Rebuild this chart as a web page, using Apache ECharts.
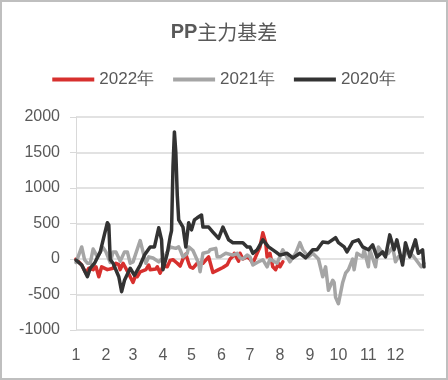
<!DOCTYPE html>
<html>
<head>
<meta charset="utf-8">
<script src="https://cdn.jsdelivr.net/npm/echarts@6/dist/echarts.min.js"></script>
<style>
html,body{margin:0;padding:0;background:#fff;}
#chart{width:448px;height:380px;position:absolute;left:0;top:0;}
#frame{position:absolute;left:0;top:0;width:448px;height:380px;box-sizing:border-box;border:2px solid #bfbfbf;pointer-events:none;}
</style>
</head>
<body>
<div id="chart"></div>
<div id="frame"></div>
<script>
// trading-day index of each month's first day and its label
const monthStartDays = [0, 21, 40, 61, 81, 102, 122, 143, 164, 184, 205, 224];
const monthLabels = ['1','2','3','4','5','6','7','8','9','10','11','12'];
const yTicks = [-1000, -500, 0, 500, 1000, 1500, 2000];

const days2022 = [0,4,5,7,9,12,14,16,18,22,26,28,30,31,33,36,38,40,42,43,45,49,51,52,56,57,59,61,64,66,68,71,73,75,77,79,80,82,85,87,89,93,96,100,103,106,108,110,111,114,115,117,120,122,124,127,129,131,132,133,134,136,138,140,142,143,145];
const vals2022 = [0,-85,-110,-200,-130,-150,-110,-250,-110,-150,-130,-60,-80,-150,-60,-170,-250,-330,-220,-250,-180,-150,-85,-150,-140,-110,-200,-100,-110,-20,-10,-60,-100,0,70,-60,-110,-130,-60,-60,-60,30,-190,-150,-120,-80,0,40,80,-30,80,0,30,0,-60,80,170,370,380,230,30,80,-110,-150,-60,-110,-40];

const days2021 = [0,4,6,8,10,12,15,19,21,24,26,28,31,34,36,38,40,45,47,49,51,54,58,62,66,70,72,73,75,78,79,82,86,87,89,93,94,98,99,101,105,106,110,113,115,117,120,122,124,127,131,134,136,141,145,150,154,157,159,163,166,170,173,175,177,180,181,182,184,187,189,191,194,195,197,201,202,205,206,210,212,216,219,222,224,226,230,232,236,238,242,244];
const vals2021 = [-50,170,-10,-60,-60,140,30,160,100,-50,100,100,-30,100,100,-60,-40,260,100,-60,30,15,-40,30,170,150,170,130,30,80,170,120,-60,-180,80,100,130,150,30,30,80,100,55,80,15,0,55,30,-85,-50,-10,-110,0,-60,130,-40,80,230,130,30,80,0,-250,-110,-440,-300,-330,-540,-630,-330,-200,-150,0,-150,80,30,130,-110,130,-110,170,55,80,170,-40,30,30,130,50,0,-110,-60];

const days2020 = [0,4,8,10,13,17,20,22,23,24,26,30,32,34,38,41,45,48,52,55,58,60,61,64,66,67,68,69,70,71,72,73,75,77,79,81,83,85,88,89,93,96,100,103,107,110,113,117,120,122,124,127,131,135,140,143,148,152,157,161,166,169,173,177,182,184,188,190,194,198,201,205,208,211,215,217,220,223,225,229,231,234,238,240,243,244];
const vals2020 = [-15,-85,-250,-130,-60,100,350,510,480,-10,-60,-250,-460,-300,-130,-230,-85,55,170,170,440,270,-150,80,310,400,1300,1790,1500,900,550,550,450,170,510,410,550,580,620,450,450,380,290,450,270,230,230,230,170,170,80,130,270,170,100,55,80,15,80,15,130,130,240,230,300,230,170,100,240,270,170,130,200,30,100,30,340,130,270,-85,230,30,270,80,130,-110];

const seriesNames = ['2022年', '2021年', '2020年'];
const seriesColors = ['#D7302E', '#A5A5A5', '#333333'];

function pairs(d, v) { return d.map((x, i) => [x, v[i]]); }
const allData = [pairs(days2022, vals2022), pairs(days2021, vals2021), pairs(days2020, vals2020)];

const chart = echarts.init(document.getElementById('chart'), null, {renderer: 'canvas'});
const labelFont = '"Liberation Sans", Arial, sans-serif';

chart.setOption({
  animation: false,
  backgroundColor: '#ffffff',
  title: {
    text: '{a|PP}{b|主力基差}',
    left: 'center',
    top: 17,
    textStyle: {
      rich: {
        a: {fontSize: 20, fontWeight: 'bold', color: '#595959', fontFamily: labelFont},
        b: {fontSize: 20, fontWeight: 'normal', color: '#595959', fontFamily: '"Noto Sans CJK SC", sans-serif'}
      }
    }
  },
  legend: {
    data: seriesNames,
    left: 'center',
    top: 66,
    icon: 'rect',
    itemWidth: 42,
    itemHeight: 4,
    itemGap: 19,
    textStyle: {fontSize: 17, color: '#595959', fontFamily: labelFont}
  },
  grid: {left: 76, right: 24, top: 117, bottom: 50},
  xAxis: {
    type: 'value',
    min: 0,
    max: 244,
    axisLine: {show: false},
    axisTick: {show: false},
    splitLine: {show: false},
    axisLabel: {
      customValues: monthStartDays,
      formatter: function (v) {
        const i = monthStartDays.indexOf(v);
        return i >= 0 ? monthLabels[i] : '';
      },
      fontSize: 16,
      color: '#595959',
      fontFamily: labelFont,
      margin: 18
    }
  },
  yAxis: {
    type: 'value',
    min: yTicks[0],
    max: yTicks[yTicks.length - 1],
    interval: 500,
    axisLine: {show: true, lineStyle: {color: '#d9d9d9', width: 1}},
    axisTick: {show: true, length: 6, lineStyle: {color: '#d9d9d9'}},
    splitLine: {show: true, lineStyle: {color: '#d9d9d9', width: 1.5}},
    axisLabel: {
      fontSize: 16, color: '#595959', fontFamily: labelFont, margin: 16,
      formatter: function (v) { return String(v); }
    }
  },
  series: seriesNames.map((name, i) => ({
    name: name,
    type: 'line',
    data: allData[i],
    showSymbol: false,
    symbol: 'none',
    color: seriesColors[i],
    lineStyle: {width: 3.5, color: seriesColors[i], join: 'round', cap: 'round'},
    z: 2 + i
  }))
});
</script>
</body>
</html>
